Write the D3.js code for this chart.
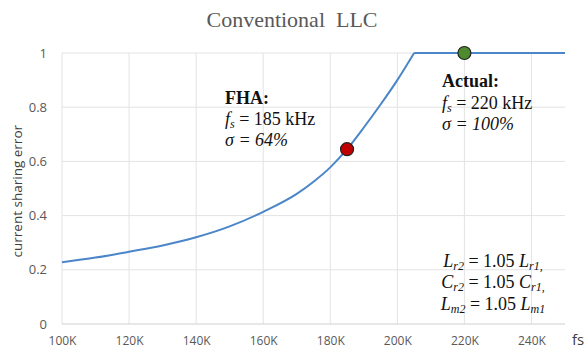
<!DOCTYPE html>
<html>
<head>
<meta charset="utf-8"/>
<script src="https://cdn.jsdelivr.net/npm/d3@7"></script>
<style>
  body { margin:0; background:#fff; }
  .tick text { font-family:"Open Sans", "Liberation Sans", sans-serif; fill:#595959; font-size:12px; }
  .ann { font-family:"Liberation Serif", "DejaVu Serif", serif; fill:#111; font-size:18px; }
</style>
</head>
<body>
<script>
// frequency (kHz) vs current sharing error
var freq  = [100, 110, 120, 130, 140, 150, 160, 170, 175, 180, 185, 190, 195, 200, 205];
var error = [0.228, 0.245, 0.267, 0.29, 0.32, 0.36, 0.414, 0.48, 0.525, 0.578, 0.645, 0.725, 0.81, 0.9, 1.0];
var flatFreq  = [205, 250];
var flatError = [1.0, 1.0];
var xTicks = [100, 120, 140, 160, 180, 200, 220, 240];
var yTicks = [0, 0.2, 0.4, 0.6, 0.8, 1];
var markFreq  = [185, 220];
var markError = [0.645, 1.0];
var markColor = ["#c00000", "#4e8a2e"];

var width = 584, height = 356;
var svg = d3.select("body").append("svg").attr("width", width).attr("height", height);

var x = d3.scaleLinear().domain([100, 250]).range([62, 565]);
var y = d3.scaleLinear().domain([0, 1]).range([324, 53]);

// gridlines
svg.append("g").selectAll("line").data(yTicks.slice(1)).enter().append("line")
  .attr("x1", x(100)).attr("x2", x(250))
  .attr("y1", function(d){ return y(d); }).attr("y2", function(d){ return y(d); })
  .attr("stroke", "#e3e3e3");
svg.append("g").selectAll("line").data(xTicks).enter().append("line")
  .attr("x1", function(d){ return x(d); }).attr("x2", function(d){ return x(d); })
  .attr("y1", y(0)).attr("y2", y(1))
  .attr("stroke", "#e3e3e3");
svg.append("line").attr("x1", x(100)).attr("x2", x(250)).attr("y1", y(0)).attr("y2", y(0))
  .attr("stroke", "#d0d0d0");

var xAxis = svg.append("g").attr("transform", "translate(0," + y(0) + ")")
  .call(d3.axisBottom(x).tickValues(xTicks).tickSize(0).tickPadding(12).tickFormat(function(d){ return d + "K"; }));
xAxis.select(".domain").remove();

var yAxis = svg.append("g").attr("transform", "translate(" + (x(100) - 9) + ",0)")
  .call(d3.axisLeft(y).tickValues(yTicks).tickSize(0).tickPadding(6).tickFormat(function(d){ return d3.format("")(d); }));
yAxis.select(".domain").remove();
yAxis.selectAll(".tick text").style("font-size", "13px");

svg.append("text").attr("x", 292).attr("y", 27).attr("text-anchor", "middle")
  .style("font-family", "'Liberation Serif', serif").style("font-size", "22px").style("white-space", "pre")
  .attr("fill", "#595959").text("Conventional  LLC");

svg.append("text").attr("transform", "translate(22," + y(0.49) + ") rotate(-90)")
  .attr("text-anchor", "middle").style("font-family", "'Open Sans', sans-serif").style("font-size", "13.5px")
  .attr("fill", "#404040").text("current sharing error");

svg.append("text").attr("x", 572).attr("y", 345).style("font-family", "'Open Sans', sans-serif")
  .style("font-size", "15px").attr("fill", "#404040").text("fs");

var line = d3.line().x(function(d){ return x(d[0]); }).y(function(d){ return y(d[1]); });
svg.append("path").datum(d3.zip(freq, error)).attr("d", line.curve(d3.curveMonotoneX))
  .attr("fill", "none").attr("stroke", "#4a86c8").attr("stroke-width", 2);
svg.append("path").datum(d3.zip(flatFreq, flatError)).attr("d", line.curve(d3.curveLinear))
  .attr("fill", "none").attr("stroke", "#4a86c8").attr("stroke-width", 2);

svg.append("g").selectAll("circle").data(d3.range(markFreq.length)).enter().append("circle")
  .attr("cx", function(i){ return x(markFreq[i]); }).attr("cy", function(i){ return y(markError[i]); })
  .attr("r", 6.5).attr("fill", function(i){ return markColor[i]; })
  .attr("stroke", "#222").attr("stroke-width", 1.2);

// annotations
function fsLine(g, px, py, val) {
  var t = g.append("text").attr("class", "ann").attr("x", px).attr("y", py);
  t.append("tspan").style("font-style", "italic").text("f");
  t.append("tspan").style("font-style", "italic").style("font-size", "12px").attr("dy", 3).text("s");
  t.append("tspan").attr("dy", -3).text(" = " + val + " kHz");
}
var ann = svg.append("g");
ann.append("text").attr("class", "ann").attr("x", 225).attr("y", 104).style("font-weight", "bold").text("FHA:");
fsLine(ann, 225, 125, 185);
ann.append("text").attr("class", "ann").attr("x", 225).attr("y", 146).style("font-style", "italic").text("σ = 64%");

ann.append("text").attr("class", "ann").attr("x", 442).attr("y", 87).style("font-weight", "bold").text("Actual:");
fsLine(ann, 442, 109, 220);
ann.append("text").attr("class", "ann").attr("x", 442).attr("y", 130).style("font-style", "italic").text("σ = 100%");

function ratioLine(py, sym, sub2, sub1) {
  var t = ann.append("text").attr("class", "ann").attr("x", 493).attr("y", py).attr("text-anchor", "middle");
  t.append("tspan").style("font-style", "italic").text(sym);
  t.append("tspan").style("font-style", "italic").style("font-size", "12px").attr("dy", 3).text(sub2);
  t.append("tspan").attr("dy", -3).text(" = 1.05 ");
  t.append("tspan").style("font-style", "italic").text(sym);
  t.append("tspan").style("font-style", "italic").style("font-size", "12px").attr("dy", 3).text(sub1);
}
ratioLine(267, "L", "r2", "r1,");
ratioLine(288, "C", "r2", "r1,");
ratioLine(310, "L", "m2", "m1");
</script>
</body>
</html>
